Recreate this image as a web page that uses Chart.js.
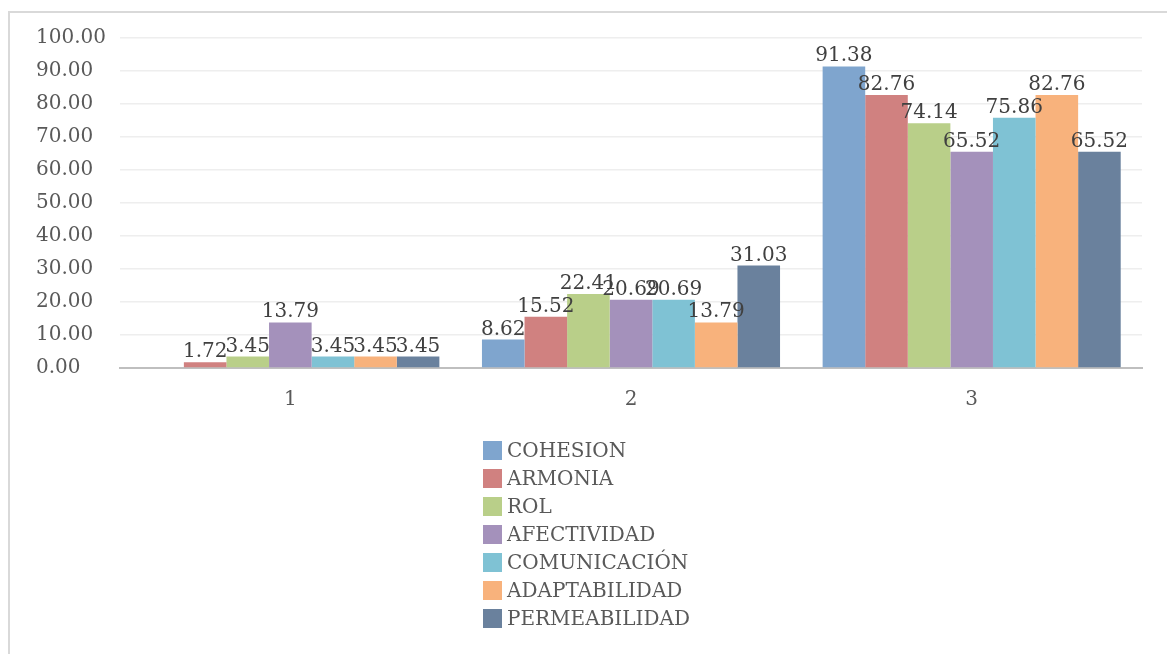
<!DOCTYPE html>
<html>
<head>
<meta charset="utf-8">
<script src="https://cdn.jsdelivr.net/npm/chart.js@4"></script>
<style>
  html, body { margin: 0; padding: 0; background: #ffffff; }
  body { width: 1167px; height: 654px; position: relative; overflow: hidden; }
  #frame { position: absolute; left: 8px; top: 11px; width: 1200px; height: 700px;
           border-left: 2px solid #d9d9d9; border-top: 2px solid #d9d9d9; box-sizing: border-box; }
  #wrap { position: absolute; left: 0; top: 0; width: 1167px; height: 654px; }
</style>
</head>
<body>
<div id="frame"></div>
<div id="wrap"><canvas id="chart"></canvas></div>
<script>
// Groups along the x axis
const categories = ['1', '2', '3'];

// Series names and their percentages per group
const seriesNames = ['COHESION', 'ARMONIA', 'ROL', 'AFECTIVIDAD', 'COMUNICACIÓN', 'ADAPTABILIDAD', 'PERMEABILIDAD'];
const cohesion      = [0.00, 8.62, 91.38];
const armonia       = [1.72, 15.52, 82.76];
const rol           = [3.45, 22.41, 74.14];
const afectividad   = [13.79, 20.69, 65.52];
const comunicacion  = [3.45, 20.69, 75.86];
const adaptabilidad = [3.45, 13.79, 82.76];
const permeabilidad = [3.45, 31.03, 65.52];

// Y axis tick values
const yTicks = [0, 10, 20, 30, 40, 50, 60, 70, 80, 90, 100];

const seriesValues = [cohesion, armonia, rol, afectividad, comunicacion, adaptabilidad, permeabilidad];
const seriesColors = ['#7fa5ce', '#d08180', '#b9cf89', '#a491bb', '#7fc2d4', '#f8b27c', '#6a819d'];

const FONT = '"DejaVu Serif", "Liberation Serif", serif';

// Value labels above each bar (zero values carry no label)
const valueLabels = {
  id: 'valueLabels',
  afterDatasetsDraw(chart) {
    const ctx = chart.ctx;
    ctx.save();
    ctx.font = '20px ' + FONT;
    ctx.fillStyle = '#404040';
    ctx.textAlign = 'center';
    ctx.textBaseline = 'alphabetic';
    chart.data.datasets.forEach((ds, i) => {
      const meta = chart.getDatasetMeta(i);
      meta.data.forEach((bar, j) => {
        const v = ds.data[j];
        if (!v) return;
        ctx.fillText(v.toFixed(2), bar.x, bar.y - 5);
      });
    });
    ctx.restore();
  }
};

// Vertical, left-aligned legend below the plot, centred on the chart
const columnLegend = {
  id: 'columnLegend',
  afterDraw(chart) {
    const ctx = chart.ctx;
    const area = chart.chartArea;
    ctx.save();
    ctx.font = '20px ' + FONT;
    ctx.textBaseline = 'middle';
    ctx.textAlign = 'left';
    const box = 19, gap = 5, row = 28;
    const widths = chart.data.datasets.map(ds => ctx.measureText(ds.label).width);
    const total = box + gap + Math.max(...widths);
    const x0 = Math.round(chart.width / 2 + 3 - total / 2);
    const y0 = area.bottom + 73;
    chart.data.datasets.forEach((ds, i) => {
      const y = y0 + i * row;
      ctx.fillStyle = ds.backgroundColor;
      ctx.fillRect(x0, y, box, box);
      ctx.fillStyle = '#595959';
      ctx.fillText(ds.label, x0 + box + gap, y + box / 2 + 1);
    });
    ctx.restore();
  }
};

new Chart(document.getElementById('chart'), {
  type: 'bar',
  data: {
    labels: categories,
    datasets: seriesNames.map((name, i) => ({
      label: name,
      data: seriesValues[i],
      backgroundColor: seriesColors[i],
      borderWidth: 0,
      categoryPercentage: 0.875,
      barPercentage: 1.0
    }))
  },
  options: {
    responsive: true,
    maintainAspectRatio: false,
    animation: false,
    layout: { padding: { left: 36, right: 25, top: 38, bottom: 236 } },
    plugins: {
      legend: { display: false },
      tooltip: { enabled: false }
    },
    scales: {
      x: {
        grid: { display: false, drawTicks: false },
        border: { display: true, color: '#bfbfbf', width: 2 },
        ticks: { color: '#595959', font: { family: FONT, size: 20 }, padding: 20 },
        afterFit(scale) { scale.height = 50; }
      },
      y: {
        min: 0,
        max: 100,
        afterBuildTicks(scale) { scale.ticks = yTicks.map(v => ({ value: v })); },
        grid: { color: '#eeeeee', lineWidth: 1.5, drawTicks: false },
        border: { display: false },
        ticks: {
          color: '#595959',
          font: { family: FONT, size: 20 },
          crossAlign: 'far',
          padding: 0,
          callback: v => Number(v).toFixed(2)
        },
        afterFit(scale) { scale.width = 84; }
      }
    }
  },
  plugins: [valueLabels, columnLegend]
});
</script>
</body>
</html>
